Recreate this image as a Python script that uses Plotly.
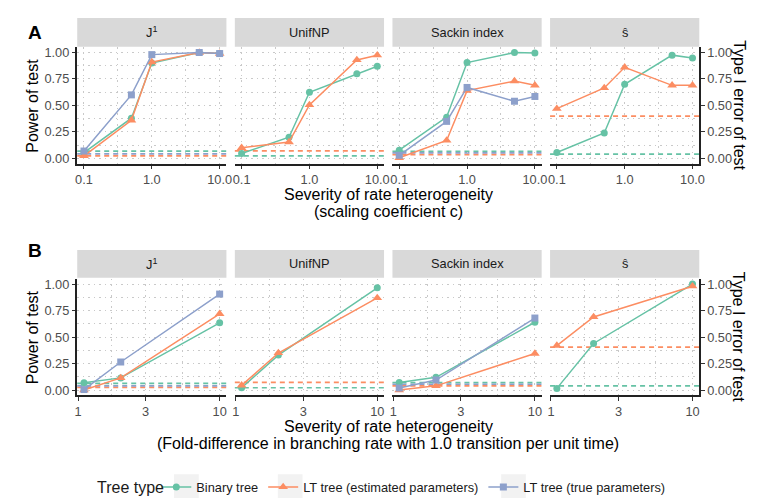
import plotly.graph_objects as go

# ---------------- data ----------------
x_A = [0.1, 0.5, 1.0, 5.0, 10.0]
x_B = [1.1, 2.0, 10.0]
x_A_ticks = [0.1, 1.0, 10.0]
x_A_ticktext = ["0.1", "1.0", "10.0"]
x_B_ticks = [1, 3, 10]
x_B_ticktext = ["1", "3", "10"]
y_ticks = [0.0, 0.25, 0.5, 0.75, 1.0]
y_ticktext = ["0.00", "0.25", "0.50", "0.75", "1.00"]
facet_labels = ["J<sup>1</sup>", "UnifNP", "Sackin index", "ŝ"]
series_names = ["Binary tree", "LT tree (estimated parameters)", "LT tree (true parameters)"]
legend_title = "Tree type"

# Panel A: power by scaling coefficient c
A_J1_binary = [0.055, 0.38, 0.90, 1.00, 0.99]
A_J1_est = [0.025, 0.36, 0.91, 1.00, 0.99]
A_J1_true = [0.07, 0.60, 0.98, 1.00, 0.99]
A_Unif_binary = [0.047, 0.20, 0.625, 0.80, 0.87]
A_Unif_est = [0.10, 0.155, 0.505, 0.93, 0.975]
A_Sackin_binary = [0.078, 0.39, 0.905, 1.00, 0.995]
A_Sackin_est = [0.006, 0.17, 0.64, 0.73, 0.69]
A_Sackin_true = [0.03, 0.35, 0.67, 0.54, 0.585]
A_Shat_binary = [0.056, 0.24, 0.70, 0.975, 0.947]
A_Shat_est = [0.47, 0.665, 0.86, 0.69, 0.69]

# Panel B: power by fold-difference in branching rate
B_J1_binary = [0.07, 0.115, 0.635]
B_J1_est = [0.0, 0.115, 0.72]
B_J1_true = [0.005, 0.265, 0.906]
B_Unif_binary = [0.022, 0.33, 0.965]
B_Unif_est = [0.045, 0.35, 0.87]
B_Sackin_binary = [0.072, 0.12, 0.64]
B_Sackin_est = [0.0, 0.04, 0.345]
B_Sackin_true = [0.02, 0.095, 0.68]
B_Shat_binary = [0.016, 0.44, 1.00]
B_Shat_est = [0.42, 0.69, 0.98]

# Type I error (dashed reference lines), per facet
typeI_A_binary = [0.069, 0.025, 0.068, 0.04]
typeI_A_est = [0.025, 0.072, 0.037, 0.40]
typeI_A_true = [0.044, None, 0.052, None]
typeI_B_binary = [0.063, 0.022, 0.07, 0.04]
typeI_B_est = [0.025, 0.072, 0.04, 0.406]
typeI_B_true = [0.04, None, 0.055, None]

# ---------------- styling ----------------
W, H = 763, 498
COLORS = ["#66C2A5", "#FC8D62", "#8DA0CB"]
SYMBOLS = ["circle", "triangle-up", "square"]
MSIZE = [7, 8.5, 7]
FONT = "Liberation Sans, Arial, Helvetica, sans-serif"
GRID = "#C9C9C9"

def xd(a, b):
    return [a / W, b / W]

def yd(top, bottom):
    return [1 - bottom / H, 1 - top / H]

facet_left = [67 + i * 159.5 for i in range(4)]
FW = 151
rows = [
    dict(top=37.5, bottom=155, strip=(8, 37), x=x_A, xticks=x_A_ticks, xtt=x_A_ticktext,
         xrange=[-1.1, 1.1], minor=[10 ** -0.5, 10 ** 0.5],
         data=[[A_J1_binary, A_J1_est, A_J1_true],
               [A_Unif_binary, A_Unif_est, None],
               [A_Sackin_binary, A_Sackin_est, A_Sackin_true],
               [A_Shat_binary, A_Shat_est, None]],
         typeI=[typeI_A_binary, typeI_A_est, typeI_A_true]),
    dict(top=271, bottom=388.5, strip=(242, 270), x=x_B, xticks=x_B_ticks, xtt=x_B_ticktext,
         xrange=[-0.0065, 1.048], minor=[10 ** 0.2386, 10 ** 0.7386],
         data=[[B_J1_binary, B_J1_est, B_J1_true],
               [B_Unif_binary, B_Unif_est, None],
               [B_Sackin_binary, B_Sackin_est, B_Sackin_true],
               [B_Shat_binary, B_Shat_est, None]],
         typeI=[typeI_B_binary, typeI_B_est, typeI_B_true]),
]

fig = go.Figure()
layout = {}
shapes = []
annotations = []

for r, row in enumerate(rows):
    for i in range(4):
        k = r * 4 + i + 1
        xn = "x" if k == 1 else f"x{k}"
        yn = "y" if k == 1 else f"y{k}"
        xa = "xaxis" if k == 1 else f"xaxis{k}"
        ya = "yaxis" if k == 1 else f"yaxis{k}"
        l = facet_left[i]
        layout[xa] = dict(
            domain=xd(l, l + FW), anchor=yn, type="log", range=row["xrange"],
            tickvals=row["xticks"], ticktext=row["xtt"], ticks="outside", ticklen=3.5,
            tickwidth=1, tickcolor="#333333", showline=True, linecolor="#222222", linewidth=1.6,
            showgrid=True, gridcolor=GRID, griddash="1.5px,4px", gridwidth=1.1, zeroline=False,
            tickfont=dict(size=12.8, color="#4D4D4D", family=FONT),
            minor=dict(tickmode="array", tickvals=row["minor"], showgrid=True,
                       gridcolor=GRID, griddash="1.5px,4px", gridwidth=1.1, ticks=""),
        )
        ydict = dict(
            domain=yd(row["top"], row["bottom"]), anchor=xn, range=[-0.05, 1.05],
            tickvals=y_ticks, ticktext=y_ticktext, showgrid=True, gridcolor=GRID,
            griddash="1.5px,4px", gridwidth=1.1, zeroline=False,
            tickfont=dict(size=12.8, color="#4D4D4D", family=FONT),
            minor=dict(tickmode="array", tickvals=[0.125, 0.375, 0.625, 0.875], showgrid=True,
                       gridcolor=GRID, griddash="1.5px,4px", gridwidth=1.1, ticks=""),
        )
        if i == 0:
            ydict.update(side="left", showticklabels=True, ticks="outside", ticklen=3.5,
                         tickcolor="#333333", showline=True, linecolor="#222222", linewidth=1.6)
        elif i == 3:
            ydict.update(side="right", showticklabels=True, ticks="outside", ticklen=3.5,
                         tickcolor="#333333", showline=True, linecolor="#222222", linewidth=1.6)
        else:
            ydict.update(showticklabels=False, ticks="", showline=False)
        layout[ya] = ydict

        # strip
        s0, s1 = row["strip"]
        shapes.append(dict(type="rect", xref="paper", yref="paper", x0=l / W, x1=(l + FW) / W,
                           y0=1 - s1 / H, y1=1 - s0 / H, fillcolor="#D9D9D9", line=dict(width=0),
                           layer="below"))
        annotations.append(dict(text=facet_labels[i], xref="paper", yref="paper",
                                x=(l + FW / 2) / W, y=1 - (s0 + s1) / 2 / H, showarrow=False,
                                xanchor="center", yanchor="middle",
                                font=dict(size=12.8, color="#1A1A1A", family=FONT)))

        # dashed type I error lines
        for s in range(3):
            v = row["typeI"][s][i]
            if v is None:
                continue
            shapes.append(dict(type="line", xref=f"{xn} domain", yref=yn, x0=0, x1=1, y0=v, y1=v,
                               line=dict(color=COLORS[s], width=1.7, dash="5px,4px"),
                               layer="below"))

        # series
        for s in range(3):
            yv = row["data"][i][s]
            if yv is None:
                continue
            fig.add_trace(go.Scatter(
                x=row["x"], y=yv, mode="lines+markers", name=series_names[s],
                line=dict(color=COLORS[s], width=1.5),
                marker=dict(color=COLORS[s], symbol=SYMBOLS[s], size=MSIZE[s]),
                xaxis=xn, yaxis=yn, showlegend=(k == 1), legendgroup=series_names[s],
                cliponaxis=False,
            ))

# panel letters
annotations.append(dict(text="<b>A</b>", xref="paper", yref="paper", x=15 / W, y=1 - 10 / H,
                        showarrow=False, font=dict(size=19, color="#000000", family=FONT)))
annotations.append(dict(text="<b>B</b>", xref="paper", yref="paper", x=15 / W, y=1 - 242 / H,
                        showarrow=False, font=dict(size=19, color="#000000", family=FONT)))

# axis titles
for r, (top, bottom, sub) in enumerate([(37.5, 155, "(scaling coefficient c)"),
                                        (271, 388.5, "(Fold-difference in branching rate with 1.0 transition per unit time)")]):
    annotations.append(dict(text="Severity of rate heterogeneity", xref="paper", yref="paper",
                            x=381.5 / W, y=1 - (bottom + 31) / H, showarrow=False,
                            yanchor="middle", font=dict(size=16, color="#000000", family=FONT)))
    annotations.append(dict(text=sub, xref="paper", yref="paper",
                            x=381.5 / W, y=1 - (bottom + 48.5) / H, showarrow=False,
                            yanchor="middle", font=dict(size=16, color="#000000", family=FONT)))
    annotations.append(dict(text="Power of test", xref="paper", yref="paper",
                            x=21.5 / W, y=1 - (top + bottom) / 2 / H, showarrow=False, textangle=-90,
                            xanchor="center", yanchor="middle",
                            font=dict(size=16, color="#000000", family=FONT)))
    annotations.append(dict(text="Type I error of test", xref="paper", yref="paper",
                            x=737 / W, y=1 - (top + bottom) / 2 / H, showarrow=False, textangle=90,
                            xanchor="center", yanchor="middle",
                            font=dict(size=16, color="#000000", family=FONT)))

# legend title as text
annotations.append(dict(text=legend_title, xref="paper", yref="paper", x=157 / W, y=1 - 481 / H,
                        xanchor="right", yanchor="middle", showarrow=False,
                        font=dict(size=16, color="#1A1A1A", family=FONT)))

# legend key backgrounds
for kx in [165, 270, 496]:
    shapes.append(dict(type="rect", xref="paper", yref="paper", x0=kx / W, x1=(kx + 25) / W,
                       y0=1 - 493 / H, y1=1 - 468 / H, fillcolor="#F2F2F2", line=dict(width=0),
                       layer="below"))

fig.update_layout(
    **layout,
    width=W, height=H, margin=dict(l=0, r=0, t=0, b=0),
    paper_bgcolor="white", plot_bgcolor="rgba(0,0,0,0)",
    font=dict(family=FONT, color="#1A1A1A"),
    shapes=shapes, annotations=annotations,
    legend=dict(orientation="h", x=147 / W, xanchor="left", y=1 - 481 / H, yanchor="middle",
                font=dict(size=12.8, color="#1A1A1A"), bgcolor="rgba(0,0,0,0)",
                itemwidth=30),
)

fig.write_html("out.html")
